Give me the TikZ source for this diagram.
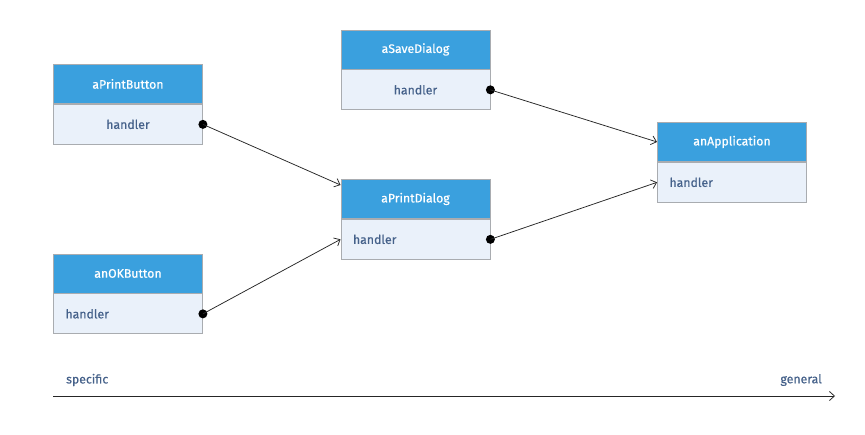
\documentclass[tikz,border=0pt]{standalone}
\usepackage{fontspec}
\setmainfont{Fira Sans}[FakeBold=0.5]
\usetikzlibrary{arrows.meta,calc}
\definecolor{hdr}{HTML}{3AA0DE}
\definecolor{bdy}{HTML}{EAF1FA}
\definecolor{brd}{HTML}{A9ACB0}
\definecolor{txt}{HTML}{45618A}
\begin{document}
\begin{tikzpicture}[x=1pt,y=-1pt,
  hdrbox/.style={draw=brd,fill=hdr,minimum width=149pt,minimum height=39pt,
    text=white,font=\fontsize{12.3}{14}\selectfont,inner sep=0pt,anchor=north west,line width=0.9pt},
  bdybox/.style={draw=brd,fill=bdy,minimum width=149pt,minimum height=40pt,
    text=txt,font=\fontsize{12.3}{14}\selectfont,inner ysep=0pt,inner xsep=12pt,
    text width=125pt,anchor=north,line width=0.9pt},
  ctr/.style={align=center},
  lft/.style={align=left},
  conn/.style={draw=black!85,line width=0.75pt,-{Straight Barb[length=5pt,width=9pt]}},
  dotnode/.style={circle,fill=black,inner sep=0pt,minimum size=9pt},
  lbl/.style={text=txt,font=\fontsize{12.3}{14}\selectfont,inner sep=0pt}]
\useasboundingbox[fill=white] (0,0) rectangle (865,434);

% aPrintButton
\node[hdrbox] (pbh) at (53,64) {aPrintButton};
\node[bdybox,ctr] (pbb) at (pbh.south) {handler};
\node[dotnode] (pbd) at (pbb.east) {};
% aSaveDialog
\node[hdrbox] (sdh) at (340.5,29.5) {aSaveDialog};
\node[bdybox,ctr] (sdb) at (sdh.south) {handler};
\node[dotnode] (sdd) at (sdb.east) {};
% aPrintDialog
\node[hdrbox] (pdh) at (340.5,179) {aPrintDialog};
\node[bdybox,lft] (pdb) at (pdh.south) {handler};
\node[dotnode] (pdd) at (pdb.east) {};
% anOKButton
\node[hdrbox] (okh) at (53,253.5) {anOKButton};
\node[bdybox,lft] (okb) at (okh.south) {handler};
\node[dotnode] (okd) at (okb.east) {};
% anApplication
\node[hdrbox] (aah) at (657,122) {anApplication};
\node[bdybox,lft] (aab) at (aah.south) {handler};

% connectors
\draw[conn] (pbd.center) -- ($(pdh.north west)+(0,6)$);
\draw[conn] (okd.center) -- (pdb.west);
\draw[conn] (sdd.center) -- (aah.west);
\draw[conn] (pdd.center) -- (aab.west);

% axis
\coordinate (axs) at (53,396);
\coordinate (axe) at (835,396);
\draw[conn] (axs) -- (axe);
\node[lbl,anchor=west] (spec) at (66,380) {specific};
\node[lbl,anchor=east] (gen) at (822,380) {general};
\end{tikzpicture}
\end{document}
